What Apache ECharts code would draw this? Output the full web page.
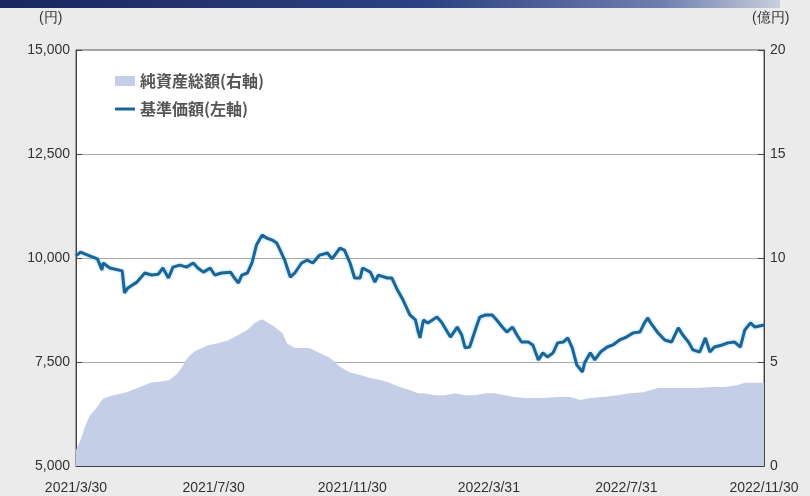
<!DOCTYPE html>
<html>
<head>
<meta charset="utf-8">
<script src="https://cdn.jsdelivr.net/npm/echarts@6/dist/echarts.min.js"></script>
<style>
html,body{margin:0;padding:0;background:#ebebeb;}
#c{width:810px;height:496px;}
</style>
</head>
<body>
<div id="c"></div>
<script>
// 基準価額 (left axis, 円)
const navSeries = [
['2021-03-30',10050],['2021-04-03',10140],['2021-04-11',10050],['2021-04-18',9980],['2021-04-22',9710],
['2021-04-23',9880],['2021-04-29',9760],['2021-05-10',9690],['2021-05-12',9160],['2021-05-15',9280],
['2021-05-23',9420],['2021-05-30',9640],['2021-06-05',9590],['2021-06-11',9610],['2021-06-15',9760],
['2021-06-20',9520],['2021-06-24',9780],['2021-06-30',9830],['2021-07-06',9780],['2021-07-12',9880],
['2021-07-16',9760],['2021-07-21',9660],['2021-07-27',9760],['2021-07-31',9590],['2021-08-06',9640],
['2021-08-14',9660],['2021-08-18',9500],['2021-08-21',9400],['2021-08-24',9590],['2021-08-29',9640],
['2021-09-02',9880],['2021-09-06',10310],['2021-09-11',10550],['2021-09-15',10480],['2021-09-20',10430],
['2021-09-24',10360],['2021-09-27',10190],['2021-10-01',9950],['2021-10-06',9540],['2021-10-10',9640],
['2021-10-16',9880],['2021-10-21',9950],['2021-10-26',9880],['2021-11-01',10070],['2021-11-08',10120],
['2021-11-12',9980],['2021-11-19',10240],['2021-11-23',10190],['2021-11-28',9880],['2021-12-02',9520],
['2021-12-07',9520],['2021-12-09',9760],['2021-12-16',9660],['2021-12-20',9420],['2021-12-23',9590],
['2021-12-31',9520],['2022-01-04',9520],['2022-01-09',9230],['2022-01-14',8990],['2022-01-20',8630],
['2022-01-25',8510],['2022-01-27',8270],['2022-01-29',8080],['2022-02-01',8510],['2022-02-05',8440],
['2022-02-13',8580],['2022-02-17',8460],['2022-02-25',8100],['2022-03-03',8340],['2022-03-07',8150],
['2022-03-10',7840],['2022-03-14',7860],['2022-03-19',8270],['2022-03-23',8580],['2022-03-28',8630],
['2022-04-03',8630],['2022-04-07',8510],['2022-04-12',8340],['2022-04-16',8220],['2022-04-21',8340],
['2022-04-25',8150],['2022-04-29',7980],['2022-05-05',7980],['2022-05-09',7910],['2022-05-14',7550],
['2022-05-18',7720],['2022-05-22',7620],['2022-05-27',7720],['2022-05-31',7960],['2022-06-05',7980],
['2022-06-09',8080],['2022-06-13',7840],['2022-06-17',7430],['2022-06-22',7260],['2022-06-24',7480],
['2022-06-29',7720],['2022-07-03',7550],['2022-07-08',7740],['2022-07-14',7860],['2022-07-19',7910],
['2022-07-25',8030],['2022-07-31',8100],['2022-08-06',8200],['2022-08-12',8220],['2022-08-16',8440],
['2022-08-19',8560],['2022-08-21',8460],['2022-08-28',8200],['2022-09-03',8030],['2022-09-09',7980],
['2022-09-15',8320],['2022-09-19',8150],['2022-09-24',7980],['2022-09-28',7790],['2022-10-04',7740],
['2022-10-09',8080],['2022-10-13',7740],['2022-10-17',7860],['2022-10-24',7910],['2022-10-29',7960],
['2022-11-04',7980],['2022-11-09',7860],['2022-11-13',8270],['2022-11-18',8440],['2022-11-22',8340],
['2022-11-30',8390]
];
// 純資産総額 (right axis, 億円)
const assetSeries = [
['2021-03-30',0.77],['2021-04-03',1.25],['2021-04-07',1.9],['2021-04-11',2.4],['2021-04-18',2.85],
['2021-04-23',3.25],['2021-05-02',3.4],['2021-05-14',3.55],['2021-05-23',3.74],['2021-06-04',4.0],
['2021-06-12',4.05],['2021-06-21',4.13],['2021-06-28',4.45],['2021-07-03',4.85],['2021-07-07',5.2],
['2021-07-13',5.5],['2021-07-25',5.8],['2021-08-03',5.9],['2021-08-12',6.05],['2021-08-21',6.3],
['2021-08-29',6.55],['2021-09-05',6.9],['2021-09-11',7.05],['2021-09-16',6.9],['2021-09-22',6.7],
['2021-09-29',6.4],['2021-10-03',5.9],['2021-10-10',5.67],['2021-10-17',5.67],['2021-10-23',5.67],
['2021-11-01',5.43],['2021-11-10',5.2],['2021-11-19',4.77],['2021-11-28',4.5],['2021-12-07',4.37],
['2021-12-16',4.23],['2021-12-25',4.13],['2022-01-02',4.0],['2022-01-11',3.8],['2022-01-20',3.65],
['2022-01-27',3.5],['2022-02-02',3.5],['2022-02-11',3.4],['2022-02-20',3.4],['2022-03-01',3.5],
['2022-03-10',3.4],['2022-03-19',3.4],['2022-03-28',3.5],['2022-04-05',3.5],['2022-04-14',3.4],
['2022-04-23',3.32],['2022-05-02',3.27],['2022-05-09',3.27],['2022-05-18',3.27],['2022-05-30',3.32],
['2022-06-11',3.32],['2022-06-20',3.17],['2022-06-29',3.27],['2022-07-10',3.32],['2022-07-23',3.4],
['2022-08-03',3.5],['2022-08-15',3.55],['2022-08-28',3.75],['2022-09-09',3.75],['2022-09-21',3.75],
['2022-10-02',3.75],['2022-10-15',3.8],['2022-10-26',3.8],['2022-11-07',3.9],['2022-11-13',4.0],
['2022-11-22',4.0],['2022-11-30',4.0]
];
const xTickDates = ['2021-03-30','2021-07-30','2021-11-30','2022-03-31','2022-07-31','2022-11-30'];
const seriesNames = ['純資産総額(右軸)','基準価額(左軸)'];
const axisNames = ['(円)','(億円)'];

function toTs(s){const p=s.split('-').map(Number);return Date.UTC(p[0],p[1]-1,p[2]);}
const tickTs = xTickDates.map(toTs);
const font = 'Liberation Sans, Arial, sans-serif';
const areaColor = '#c4cfe7';
const lineColor = '#1b6496';
const legendText = {fontFamily:'Noto Sans CJK JP', fontSize:16, fontWeight:'bold', color:'#555'};

const chart = echarts.init(document.getElementById('c'), null, {renderer:'canvas'});
chart.setOption({
  backgroundColor:'#ebebeb',
  animation:false,
  graphic:[
    {type:'rect', left:0, top:0, z:-1, shape:{width:780,height:8},
     style:{fill:new echarts.graphic.LinearGradient(0,0,1,0,[
       {offset:0,color:'#1a275e'},{offset:0.55,color:'#2d4283'},{offset:0.85,color:'#6f7fae'},{offset:1,color:'#c9cedd'}])}},
    {type:'text', left:39, top:11, style:{text:axisNames[0], font:'14px '+font, fill:'#333'}},
    {type:'text', left:752, top:11, style:{text:axisNames[1], font:'14px '+font, fill:'#333'}}
  ],
  grid:{left:76,right:46,top:50,bottom:30,show:true,backgroundColor:'#ffffff',borderColor:'#555',borderWidth:1},
  legend:[
    {left:110, top:68, itemWidth:20, itemHeight:10, textStyle:legendText,
     data:[{name:seriesNames[0], icon:'rect', itemStyle:{color:areaColor}}]},
    {left:110, top:96, itemWidth:20, itemHeight:3, textStyle:legendText,
     data:[{name:seriesNames[1], icon:'rect', itemStyle:{color:lineColor}}]}
  ],
  xAxis:{
    type:'value', min:toTs('2021-03-30'), max:toTs('2022-11-30'),
    axisLine:{show:true,lineStyle:{color:'#444',width:1}},
    axisTick:{show:true,inside:true,length:6,lineStyle:{color:'#444'},customValues:tickTs},
    axisLabel:{customValues:tickTs, margin:15, color:'#333', fontSize:14, fontFamily:font,
      formatter:function(v){const d=new Date(v);return d.getUTCFullYear()+'/'+(d.getUTCMonth()+1)+'/'+d.getUTCDate();}},
    splitLine:{show:false}
  },
  yAxis:[
    {type:'value', min:5000, max:15000, interval:2500, position:'left',
     axisLine:{show:true,lineStyle:{color:'#444'}},
     axisTick:{show:true,inside:true,length:6,lineStyle:{color:'#444'}},
     axisLabel:{color:'#333',fontSize:14,fontFamily:font,margin:6,
       formatter:function(v){return v.toLocaleString('en-US');}},
     splitLine:{show:true,lineStyle:{color:'#a9a9a9',width:1}}},
    {type:'value', min:0, max:20, interval:5, position:'right',
     axisLine:{show:true,lineStyle:{color:'#444'}},
     axisTick:{show:true,inside:true,length:6,lineStyle:{color:'#444'}},
     axisLabel:{color:'#333',fontSize:14,fontFamily:font,margin:6},
     splitLine:{show:false}}
  ],
  series:[
    {name:seriesNames[0], type:'line', yAxisIndex:1, data:assetSeries.map(d=>[toTs(d[0]),d[1]]), symbol:'none', showSymbol:false,
     lineStyle:{width:0,color:areaColor}, itemStyle:{color:areaColor}, areaStyle:{color:areaColor,opacity:1}, z:1},
    {name:seriesNames[1], type:'line', yAxisIndex:0, data:navSeries.map(d=>[toTs(d[0]),d[1]]), symbol:'none', showSymbol:false,
     lineStyle:{width:3,color:lineColor,shadowColor:'rgba(90,170,225,0.6)',shadowBlur:3}, itemStyle:{color:lineColor}, z:3}
  ]
});
</script>
</body>
</html>
